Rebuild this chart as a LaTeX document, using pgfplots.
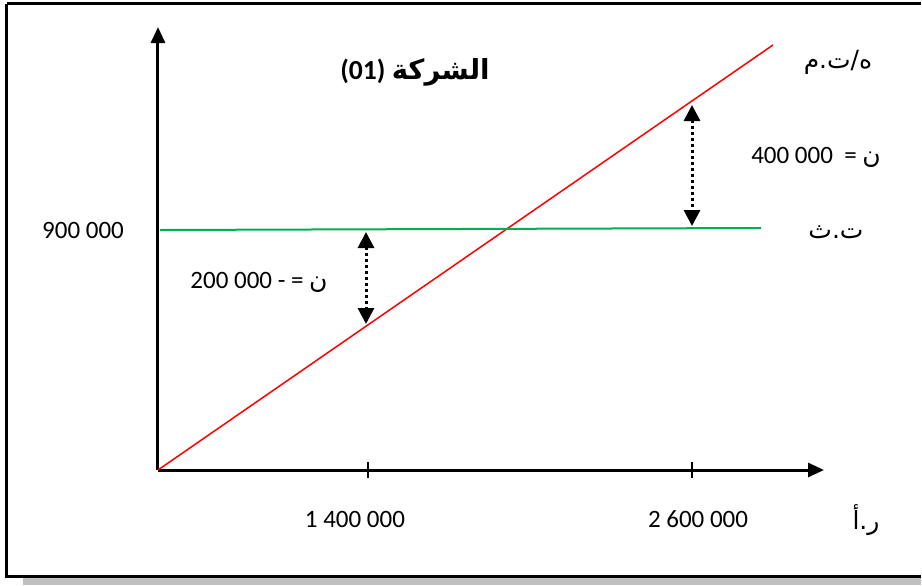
\documentclass[border=0pt]{standalone}
\usepackage{fontspec}
\setmainfont{Carlito}
\newfontfamily\arabicfont[Script=Arabic]{DejaVu Sans}
\TeXXeTstate=1
\usepackage{pgfplots}
\pgfplotsset{compat=1.18}
\usetikzlibrary{arrows.meta}
\definecolor{xlgreen}{RGB}{0,176,80}

\begin{document}
\begin{tikzpicture}[font=\fontsize{12.5}{14}\selectfont]
  \useasboundingbox (-79pt,-57.5pt) rectangle (382pt,235pt);
  % frame and shadow, in pixel units of the original
  \begin{scope}[x=0.5pt,y=-0.5pt,shift={(-79pt,235pt)}]
    \fill[gray!50] (23,577) rectangle (921,585);
    \draw[line width=1.5pt] (7,4) -- (921,4);
    \draw[line width=1.5pt] (7,4) -- (7,576) -- (921,576);
  \end{scope}
  \begin{axis}[
      at={(0,0)}, anchor=south west,
      x=0.5pt, y=0.5pt,
      xmin=0, xmax=666, ymin=0, ymax=443,
      axis lines=left,
      axis line style={line width=1.5pt, -{Triangle[width=7pt,length=8pt]}},
      xtick={210,534},
      xticklabels={\hspace*{-13pt}1 400 000, \hspace*{6pt}2 600 000},
      ytick=\empty,
      tick align=center,
      major tick length=8pt,
      tick style={line width=0.8pt, black},
      xticklabel style={anchor=center, yshift=-20.5pt},
      /pgf/number format/assume math mode=true,
      clip=false,
    ]
    \addplot[red, line width=0.75pt] coordinates {(0,0) (615,425)};
    \addplot[xlgreen, line width=1pt] coordinates {(2,240) (603,242)};
    \addplot[line width=1.5pt, dash pattern=on 1.5pt off 1.5pt,
      {Triangle[width=8pt,length=8pt]}-{Triangle[width=8pt,length=8pt]}]
      coordinates {(208,238) (208,146)};
    \addplot[line width=1.5pt, dash pattern=on 1.5pt off 1.5pt,
      {Triangle[width=8pt,length=8pt]}-{Triangle[width=8pt,length=8pt]}]
      coordinates {(534,365) (534,244)};
  \end{axis}
  \begin{scope}[x=0.5pt,y=-0.5pt,shift={(-79pt,235pt)}]
    \node at (415,72) {\fontsize{13.8}{16}\selectfont\bfseries\beginR{\arabicfont الشركة} \beginL(01)\endL\endR};
    \node at (83,230) {900 000};
    \node at (259,282) {\beginR{\arabicfont ن} = - \beginL200 000\endL\endR};
    \node at (816,157) {\beginR{\arabicfont ن} = \ \beginL400 000\endL\endR};
    \node at (838,62) {\arabicfont\beginR ه/ت.م\endR};
    \node at (836,232) {\arabicfont\beginR ت.ث\endR};
    \node at (866,520) {\arabicfont\beginR ر.أ\endR};
  \end{scope}
\end{tikzpicture}
\end{document}
